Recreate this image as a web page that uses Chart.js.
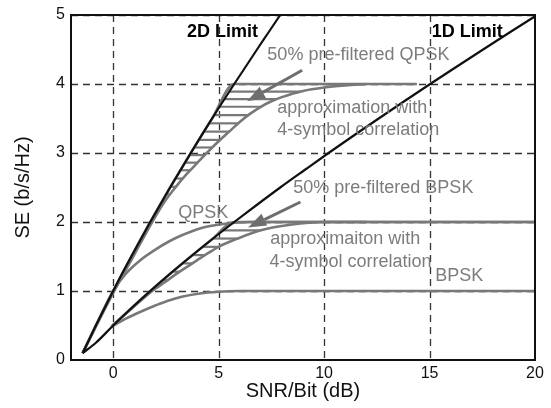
<!DOCTYPE html>
<html><head><meta charset="utf-8">
<script src="https://cdn.jsdelivr.net/npm/chart.js@4"></script>
<style>html,body{margin:0;padding:0;background:#fff}canvas{display:block}</style>
</head><body>
<canvas id="c" width="551" height="408"></canvas>
<script>
// ---- data ----
const xTicks = [0, 5, 10, 15, 20];
const yTicks = [0, 1, 2, 3, 4, 5];

const limit2D_x = [-1.45,-1.21,-0.82,-0.41,0,0.42,0.86,1.31,1.76,2.23,2.70,3.19,3.68,4.18,4.69,5.21,5.74,6.28,6.82,7.37,7.92];
const limit2D_y = [0.1,0.25,0.5,0.75,1,1.25,1.5,1.75,2,2.25,2.5,2.75,3,3.25,3.5,3.75,4,4.25,4.5,4.75,5];

const limit1D_x = [-1.45,-0.82,0,0.86,1.76,2.70,3.68,4.69,5.74,6.82,7.92,9.06,10.21,11.39,12.59,13.80,15.03,16.28,17.54,18.81,20.10];
const limit1D_y = [0.1,0.25,0.5,0.75,1,1.25,1.5,1.75,2,2.25,2.5,2.75,3,3.25,3.5,3.75,4,4.25,4.5,4.75,5];

const preQPSK_x = [-1.45,-0.82,0,0.86,1.76,2.70,3.68,4.69,5.74,14.4];
const preQPSK_y = [0.1,0.5,1,1.5,2,2.5,3,3.5,4,4];

const apxQPSK_x = [-1.45,0.05,0.95,1.85,2.45,3.0,3.5,4.0,4.5,5.0,5.5,6.0,6.5,7.0,7.5,8.0,9.0,10.0,11.0,12.0];
const apxQPSK_y = [0.1,1,1.5,2.0,2.3,2.52,2.7,2.86,3.02,3.17,3.31,3.45,3.57,3.67,3.75,3.81,3.9,3.95,3.98,4.0];

const hatchQ_y     = [3.89,3.78,3.67,3.55,3.43,3.31,3.19,3.08,2.97,2.86,2.75,2.63,2.51,2.40];
const hatchQ_left  = [5.51,5.28,5.05,4.80,4.55,4.31,4.06,3.84,3.62,3.40,3.19,2.95,2.72,2.51];
const hatchQ_right = [8.89,7.75,7.00,6.42,5.93,5.50,5.07,4.70,4.34,4.00,3.66,3.31,2.97,2.70];

const qpsk_x = [-1.45,-0.82,0,0.6,1.3,2.0,2.6,3.2,4.15,5.2,6.5,20];
const qpsk_y = [0.1,0.5,1,1.25,1.45,1.6,1.71,1.8,1.91,1.97,2.0,2.0];

const bpsk_x = [-0.1,0.6,1.3,2.0,2.6,3.3,4.1,5.0,6.0,20];
const bpsk_y = [0.48,0.6,0.7,0.79,0.86,0.92,0.965,0.99,1.0,1.0];

const preBPSK_x = [0,0.86,1.76,2.70,3.68,4.69,5.74,20];
const preBPSK_y = [0.5,0.75,1,1.25,1.5,1.75,2,2];

const apxBPSK_x = [-0.05,0.9,1.85,2.5,3.1,3.7,4.35,5.0,5.9,7.0,8.4,10,12];
const apxBPSK_y = [0.5,0.75,1.0,1.14,1.27,1.39,1.52,1.64,1.76,1.88,1.96,2.0,2.0];

const hatchB_y     = [1.88,1.76,1.64,1.52,1.40,1.28,1.16];
const hatchB_left  = [5.23,4.73,4.24,3.76,3.28,2.82,2.36];
const hatchB_right = [7.00,5.90,5.00,4.35,3.75,3.15,2.59];

const arrowFromX = [8.96, 8.88];
const arrowFromY = [4.20, 2.29];
const arrowToX   = [6.35, 6.40];
const arrowToY   = [3.75, 1.92];

const noteTexts = ['2D Limit','1D Limit','50% pre-filtered QPSK','approximation with','4-symbol correlation',
                   '50% pre-filtered BPSK','QPSK','approximaiton with','4-symbol correlation','BPSK'];
const noteX = [3.50,15.10,7.31,7.78,7.78,8.54,3.09,7.45,7.41,15.27];
const noteY = [4.75,4.75,4.42,3.65,3.33,2.49,2.13,1.75,1.42,1.22];

// ---- styling ----
const FONT = '"Liberation Sans", Arial, Helvetica, sans-serif';
const GRAY = '#787878';
const TXT = '#7c7c7c';

function pts(xs, ys){ return xs.map((x,i)=>({x:x, y:ys[i]})); }
function curve(xs, ys, color, w, order){
  return {data: pts(xs, ys), borderColor: color, borderWidth: w, pointRadius: 0,
          showLine: true, fill: false, cubicInterpolationMode: 'monotone', order: order};
}

const datasets = [
  curve(limit2D_x, limit2D_y, '#111', 2.2, 0),
  curve(limit1D_x, limit1D_y, '#111', 2.2, 0),
  curve(preQPSK_x, preQPSK_y, GRAY, 2.6, 1),
  curve(apxQPSK_x, apxQPSK_y, GRAY, 2.6, 1),
  curve(qpsk_x, qpsk_y, GRAY, 2.6, 1),
  curve(bpsk_x, bpsk_y, GRAY, 2.6, 1),
  curve(preBPSK_x, preBPSK_y, GRAY, 2.6, 1),
  curve(apxBPSK_x, apxBPSK_y, GRAY, 2.6, 1),
];
hatchQ_y.forEach((y,i)=>datasets.push({data:[{x:hatchQ_left[i],y:y},{x:hatchQ_right[i],y:y}],
  borderColor: GRAY, borderWidth: 2.2, pointRadius: 0, showLine: true, order: 2}));
hatchB_y.forEach((y,i)=>datasets.push({data:[{x:hatchB_left[i],y:y},{x:hatchB_right[i],y:y}],
  borderColor: GRAY, borderWidth: 2.2, pointRadius: 0, showLine: true, order: 2}));

const extras = {
  id: 'extras',
  beforeDatasetsDraw(chart){
    const {ctx, chartArea: a, scales: {x, y}} = chart;
    ctx.save();
    ctx.beginPath(); ctx.rect(a.left, a.top, a.right - a.left, a.bottom - a.top); ctx.clip();
    ctx.strokeStyle = '#333'; ctx.lineWidth = 1.3; ctx.setLineDash([7, 5]);
    xTicks.forEach(v => {
      const px = Math.round(x.getPixelForValue(v)) + 0.5;
      ctx.beginPath(); ctx.moveTo(px, a.top); ctx.lineTo(px, a.bottom); ctx.stroke();
    });
    yTicks.forEach(v => {
      const py = Math.round(y.getPixelForValue(v)) + 0.5;
      ctx.beginPath(); ctx.moveTo(a.left, py); ctx.lineTo(a.right, py); ctx.stroke();
    });
    ctx.restore();
  },
  afterDatasetsDraw(chart){
    const {ctx, chartArea: a, scales: {x, y}} = chart;
    ctx.save();
    // arrows
    ctx.strokeStyle = '#6e6e6e'; ctx.fillStyle = '#6e6e6e'; ctx.lineWidth = 3;
    for (let i = 0; i < arrowFromX.length; i++){
      const x0 = x.getPixelForValue(arrowFromX[i]), y0 = y.getPixelForValue(arrowFromY[i]);
      const x1 = x.getPixelForValue(arrowToX[i]),   y1 = y.getPixelForValue(arrowToY[i]);
      const ang = Math.atan2(y1 - y0, x1 - x0), L = 18, W = 6.5;
      const bx = x1 - L*Math.cos(ang), by = y1 - L*Math.sin(ang);
      ctx.beginPath(); ctx.moveTo(x0, y0); ctx.lineTo(bx, by); ctx.stroke();
      ctx.beginPath(); ctx.moveTo(x1, y1);
      ctx.lineTo(bx + W*Math.sin(ang), by - W*Math.cos(ang));
      ctx.lineTo(bx - W*Math.sin(ang), by + W*Math.cos(ang));
      ctx.closePath(); ctx.fill();
    }
    // notes
    ctx.textAlign = 'left'; ctx.textBaseline = 'middle';
    noteTexts.forEach((t,i)=>{
      const bold = t.indexOf('Limit') >= 0;
      ctx.font = (bold ? 'bold 18px ' : '18px ') + FONT;
      ctx.fillStyle = bold ? '#000' : TXT;
      ctx.fillText(t, x.getPixelForValue(noteX[i]), y.getPixelForValue(noteY[i]));
    });
    // frame
    ctx.strokeStyle = '#111'; ctx.lineWidth = 2;
    ctx.strokeRect(a.left, a.top, a.right - a.left, a.bottom - a.top);
    ctx.restore();
  }
};

function zeroPad(s){ s.paddingLeft = 0; s.paddingRight = 0; s.paddingTop = 0; s.paddingBottom = 0; }

new Chart(document.getElementById('c'), {
  type: 'scatter',
  data: { datasets: datasets },
  options: {
    responsive: false, animation: false, devicePixelRatio: 1,
    layout: { padding: { top: 15, right: 16, left: 0, bottom: 0 } },
    plugins: { legend: { display: false }, tooltip: { enabled: false } },
    scales: {
      x: {
        type: 'linear', min: -2, max: 20,
        afterBuildTicks: s => { s.ticks = xTicks.map(v => ({value: v})); },
        afterFit: s => { s.height = 48; zeroPad(s); },
        grid: { display: false, drawTicks: false },
        border: { display: false },
        ticks: { padding: 4, color: '#111', font: { family: FONT, size: 16 }, maxRotation: 0 },
        title: { display: true, text: 'SNR/Bit (dB)', color: '#111', font: { family: FONT, size: 20 }, padding: { top: 0, bottom: 5 } }
      },
      y: {
        type: 'linear', min: 0, max: 5,
        afterBuildTicks: s => { s.ticks = yTicks.map(v => ({value: v})); },
        afterFit: s => { s.width = 71; zeroPad(s); },
        grid: { display: false, drawTicks: false },
        border: { display: false },
        ticks: { padding: 6, color: '#111', font: { family: FONT, size: 16 } },
        title: { display: true, text: 'SE (b/s/Hz)', color: '#111', font: { family: FONT, size: 20 }, padding: { top: 11, bottom: 0 } }
      }
    }
  },
  plugins: [extras]
});
</script>
</body></html>
